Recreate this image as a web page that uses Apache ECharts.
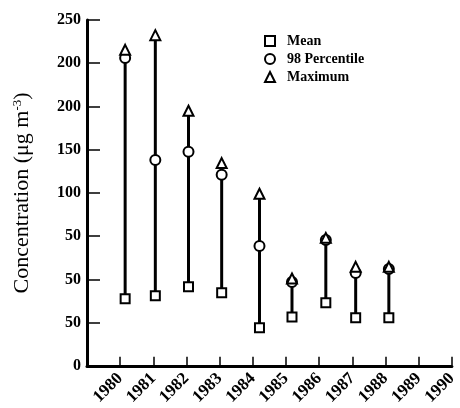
<!DOCTYPE html>
<html><head><meta charset="utf-8">
<script src="https://cdn.jsdelivr.net/npm/echarts@6/dist/echarts.min.js"></script>
<style>html,body{margin:0;padding:0;background:#fff}#c{width:460px;height:408px}</style>
</head><body><div id="c"></div>
<script>
// x positions (years, as placed in the figure)
var years = [1980.15, 1981.06, 1982.06, 1983.06, 1984.2, 1985.18, 1986.2, 1987.1, 1988.1];
// values in y-axis tick units (tick i carries label yTickLabels[i])
var meanVals = [1.55, 1.62, 1.83, 1.69, 0.88, 1.13, 1.46, 1.11, 1.11];
var p98Vals  = [7.12, 4.76, 4.95, 4.42, 2.77, 1.94, 2.91, 2.15, 2.24];
var maxVals  = [7.31, 7.65, 5.90, 4.69, 3.98, 2.02, 2.96, 2.29, 2.29];
var yTickLabels = ["0", "50", "50", "50", "100", "150", "200", "200", "250"];
var xTickLabels = ["1980","1981","1982","1983","1984","1985","1986","1987","1988","1989","1990"];

var serif = "Liberation Serif";
function pairs(v){ return years.map(function(x,i){ return [x, v[i]]; }); }
var rangeData = years.map(function(x,i){ return [x, meanVals[i], maxVals[i]]; });

var chart = echarts.init(document.getElementById('c'));
chart.setOption({
  animation: false,
  backgroundColor: '#fff',
  grid: {left: 87, right: 8, top: 20, bottom: 42},
  legend: {
    orient: 'vertical', left: 259, top: 29, itemGap: 4,
    itemWidth: 10, itemHeight: 10,
    textStyle: {fontFamily: serif, fontWeight: 'bold', fontSize: 14, color: '#000', padding: [0,0,0,7]},
    data: ['Mean', '98 Percentile', 'Maximum']
  },
  xAxis: {
    type: 'value', min: 1979, max: 1990, interval: 1,
    axisLine: {lineStyle: {color: '#000', width: 3}},
    axisTick: {inside: true, length: 9, lineStyle: {color: '#000', width: 1.5}},
    splitLine: {show: false},
    axisLabel: {
      rotate: 45, margin: 10, color: '#000', fontFamily: serif, fontWeight: 'bold', fontSize: 17,
      formatter: function(v){ var i = Math.round(v) - 1980; return i >= 0 ? xTickLabels[i] : ''; }
    }
  },
  yAxis: {
    type: 'value', min: 0, max: 8, interval: 1,
    name: 'Concentration (μg m{sup|-3})',
    nameLocation: 'middle', nameGap: 53, nameRotate: 90,
    nameTextStyle: {fontFamily: serif, fontSize: 22, color: '#000',
      rich: {sup: {fontFamily: serif, fontSize: 13, verticalAlign: 'top', padding: [0,0,10,0], color: '#000'}}},
    axisLine: {lineStyle: {color: '#000', width: 3}},
    axisTick: {inside: true, length: 13, lineStyle: {color: '#000', width: 1.5}},
    splitLine: {show: false},
    axisLabel: {
      margin: 6, color: '#000', fontFamily: serif, fontWeight: 'bold', fontSize: 16,
      formatter: function(v){ return yTickLabels[Math.round(v)]; }
    }
  },
  series: [
    {
      type: 'custom', name: 'range', z: 1,
      data: rangeData,
      renderItem: function(params, api){
        var a = api.coord([api.value(0), api.value(1)]);
        var b = api.coord([api.value(0), api.value(2)]);
        return {type: 'line', shape: {x1: a[0], y1: a[1], x2: b[0], y2: b[1]},
                style: {stroke: '#000', lineWidth: 3}};
      }
    },
    {
      type: 'scatter', name: 'Mean', z: 3, symbol: 'rect', symbolSize: 9,
      itemStyle: {color: '#fff', borderColor: '#000', borderWidth: 2, opacity: 1},
      data: pairs(meanVals)
    },
    {
      type: 'scatter', name: '98 Percentile', z: 3, symbol: 'circle', symbolSize: 10,
      itemStyle: {color: '#fff', borderColor: '#000', borderWidth: 2, opacity: 1},
      data: pairs(p98Vals)
    },
    {
      type: 'scatter', name: 'Maximum', z: 4, symbol: 'triangle', symbolSize: 10,
      itemStyle: {color: '#fff', borderColor: '#000', borderWidth: 2, opacity: 1},
      data: pairs(maxVals)
    }
  ]
});
</script></body></html>
